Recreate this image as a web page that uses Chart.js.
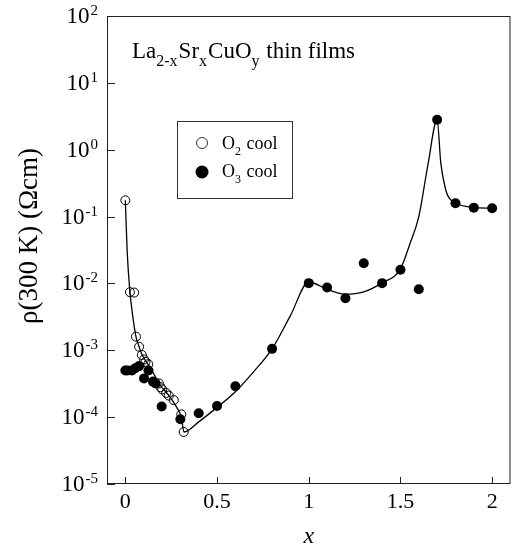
<!DOCTYPE html>
<html lang="en">
<head>
<meta charset="UTF-8">
<title>La2-xSrxCuOy resistivity</title>
<script src="https://cdn.jsdelivr.net/npm/chart.js"></script>
<style>
  body { margin: 0; background: #fff; }
</style>
</head>
<body>
<canvas id="rhoChart" width="516" height="551"></canvas>
<script>
// O2-cooled films (open circles)
const o2X = [0, 0.025, 0.048, 0.058, 0.075, 0.09, 0.102, 0.11, 0.125, 0.183, 0.192, 0.201, 0.223, 0.237, 0.264, 0.305, 0.318];
const o2Y = [0.175, 0.0074, 0.0073, 0.0016, 0.00113, 0.00085, 0.00073, 0.00067, 0.00062, 0.00032, 0.00028, 0.00026, 0.00023, 0.00021, 0.00018, 0.00011, 0.00006];

// O3-cooled films (filled circles)
const o3X = [0, 0.012, 0.036, 0.054, 0.075, 0.102, 0.126, 0.151, 0.165, 0.198, 0.3, 0.4, 0.5, 0.6, 0.8, 1.0, 1.1, 1.2, 1.3, 1.4, 1.5, 1.6, 1.7, 1.8, 1.9, 2.0];
const o3Y = [0.0005, 0.0005, 0.0005, 0.00054, 0.00058, 0.00038, 0.0005, 0.00034, 0.00032, 0.000144, 0.000093, 0.000114, 0.000147, 0.00029, 0.00105, 0.0101, 0.0087, 0.006, 0.02, 0.0101, 0.016, 0.0082, 2.8, 0.158, 0.136, 0.133];

// guide-to-the-eye curve
const fitX = [0, 0.01, 0.025, 0.04, 0.058, 0.075, 0.09, 0.11, 0.13, 0.16, 0.19, 0.22, 0.25, 0.28, 0.305, 0.32, 0.4, 0.5, 0.6, 0.7, 0.8, 0.9, 1.0, 1.1, 1.2, 1.3, 1.4, 1.5, 1.55, 1.6, 1.65, 1.7, 1.72, 1.747, 1.765, 1.8, 1.9, 2.0];
const fitY = [0.175, 0.03, 0.0075, 0.0033, 0.0016, 0.00113, 0.00087, 0.0007, 0.00058, 0.00042, 0.0003, 0.00024, 0.00019, 0.00014, 0.0001, 0.00006, 0.000085, 0.00014, 0.00024, 0.00048, 0.00105, 0.0033, 0.0105, 0.0082, 0.0069, 0.0075, 0.0102, 0.0165, 0.038, 0.1, 0.6, 2.8, 0.63, 0.25, 0.19, 0.158, 0.137, 0.133];

const xTicks = [0, 0.5, 1, 1.5, 2];
const yExps = [-5, -4, -3, -2, -1, 0, 1, 2];

const serif = '"Liberation Serif", "Times New Roman", serif';
const toPts = (xs, ys) => xs.map((x, i) => ({ x: x, y: ys[i] }));

// draws a run of text pieces, some of them sub- or superscript
function richText(ctx, x, y, parts, size) {
    parts.forEach(p => {
        const small = p[1] !== '';
        ctx.font = (small ? Math.round(size * 0.68) : size) + 'px ' + serif;
        const dy = p[1] === 'sub' ? size * 0.33 : (p[1] === 'sup' ? -size * 0.42 : 0);
        ctx.fillText(p[0], x, y + dy);
        x += ctx.measureText(p[0]).width + (small ? 1 : 0);
    });
    return x;
}

const decorations = {
    id: 'decorations',
    afterDraw(chart) {
        const ctx = chart.ctx;
        const a = chart.chartArea;
        const xs = chart.scales.x;
        const ys = chart.scales.y;
        ctx.save();

        // frame and inward ticks
        ctx.strokeStyle = '#222';
        ctx.lineWidth = 1;
        ctx.strokeRect(a.left + 0.5, a.top + 0.5, a.right - a.left - 1, a.bottom - a.top - 1);
        ctx.beginPath();
        xTicks.forEach(v => {
            const px = Math.round(xs.getPixelForValue(v)) + 0.5;
            ctx.moveTo(px, a.bottom);
            ctx.lineTo(px, a.bottom - 7);
        });
        yExps.forEach(e => {
            const py = Math.round(ys.getPixelForValue(Math.pow(10, e))) + 0.5;
            ctx.moveTo(a.left, py);
            ctx.lineTo(a.left + 8, py);
        });
        ctx.stroke();

        // y tick labels as 10^n
        ctx.fillStyle = '#000';
        ctx.textBaseline = 'alphabetic';
        ctx.textAlign = 'right';
        yExps.forEach(e => {
            const py = ys.getPixelForValue(Math.pow(10, e));
            const exp = String(e);
            ctx.font = '15px ' + serif;
            ctx.fillText(exp, a.left - 9, py - 1);
            const ew = ctx.measureText(exp).width;
            ctx.font = '23px ' + serif;
            ctx.fillText('10', a.left - 10 - ew, py + 7);
        });

        // y axis title, rotated
        ctx.save();
        ctx.translate(30, 236);
        ctx.rotate(-Math.PI / 2);
        ctx.textAlign = 'center';
        ctx.textBaseline = 'middle';
        ctx.font = '27px ' + serif;
        ctx.fillText('ρ(300 K) (Ωcm)', 0, 0);
        ctx.restore();

        ctx.textAlign = 'left';
        ctx.textBaseline = 'alphabetic';

        // sample label
        richText(ctx, a.left + 25, a.top + 42, [['La', ''], ['2-x', 'sub'], ['Sr', ''], ['x', 'sub'], ['CuO', ''], ['y', 'sub'], [' thin films', '']], 23);

        // legend box
        const lx = a.left + 70, ly = a.top + 105;
        ctx.strokeStyle = '#333';
        ctx.strokeRect(lx + 0.5, ly + 0.5, 115, 77);
        ctx.beginPath();
        ctx.arc(lx + 25, ly + 22, 5.5, 0, Math.PI * 2);
        ctx.stroke();
        ctx.beginPath();
        ctx.arc(lx + 25, ly + 51, 6.5, 0, Math.PI * 2);
        ctx.fill();
        richText(ctx, lx + 45, ly + 28, [['O', ''], ['2', 'sub'], [' cool', '']], 18);
        richText(ctx, lx + 45, ly + 56, [['O', ''], ['3', 'sub'], [' cool', '']], 18);

        ctx.restore();
    }
};

new Chart(document.getElementById('rhoChart'), {
    type: 'scatter',
    data: {
        datasets: [
            {
                label: 'fit',
                data: toPts(fitX, fitY),
                showLine: true,
                pointRadius: 0,
                borderColor: '#000',
                borderWidth: 1.3,
                cubicInterpolationMode: 'monotone',
                order: 3
            },
            {
                label: 'O2 cool',
                data: toPts(o2X, o2Y),
                pointRadius: 4.5,
                pointBackgroundColor: 'rgba(0,0,0,0)',
                pointBorderColor: '#000',
                pointBorderWidth: 1,
                order: 1
            },
            {
                label: 'O3 cool',
                data: toPts(o3X, o3Y),
                pointRadius: 5,
                pointBackgroundColor: '#000',
                pointBorderColor: '#000',
                pointBorderWidth: 0,
                order: 2
            }
        ]
    },
    options: {
        responsive: false,
        animation: false,
        layout: { padding: { top: 16, right: 3, left: 0, bottom: 0 } },
        plugins: {
            legend: { display: false },
            tooltip: { enabled: false }
        },
        scales: {
            x: {
                type: 'linear',
                min: -0.1,
                max: 2.1,
                afterBuildTicks: s => { s.ticks = xTicks.map(v => ({ value: v })); },
                afterFit: s => { s.height = 67; },
                grid: { display: false, drawTicks: false, tickLength: 0 },
                border: { display: false },
                ticks: {
                    color: '#000',
                    font: { family: serif, size: 22 },
                    padding: 5,
                    maxRotation: 0,
                    callback: v => String(v)
                },
                title: {
                    display: true,
                    text: 'x',
                    color: '#000',
                    font: { family: serif, size: 24, style: 'italic' },
                    padding: { top: 0, bottom: 0 }
                }
            },
            y: {
                type: 'logarithmic',
                min: 1e-5,
                max: 1e2,
                afterBuildTicks: s => { s.ticks = yExps.map(e => ({ value: Math.pow(10, e) })); },
                afterFit: s => { s.width = 107; },
                grid: { display: false, drawTicks: false },
                border: { display: false },
                ticks: { display: false },
                title: { display: false }
            }
        }
    },
    plugins: [decorations]
});
</script>
</body>
</html>
